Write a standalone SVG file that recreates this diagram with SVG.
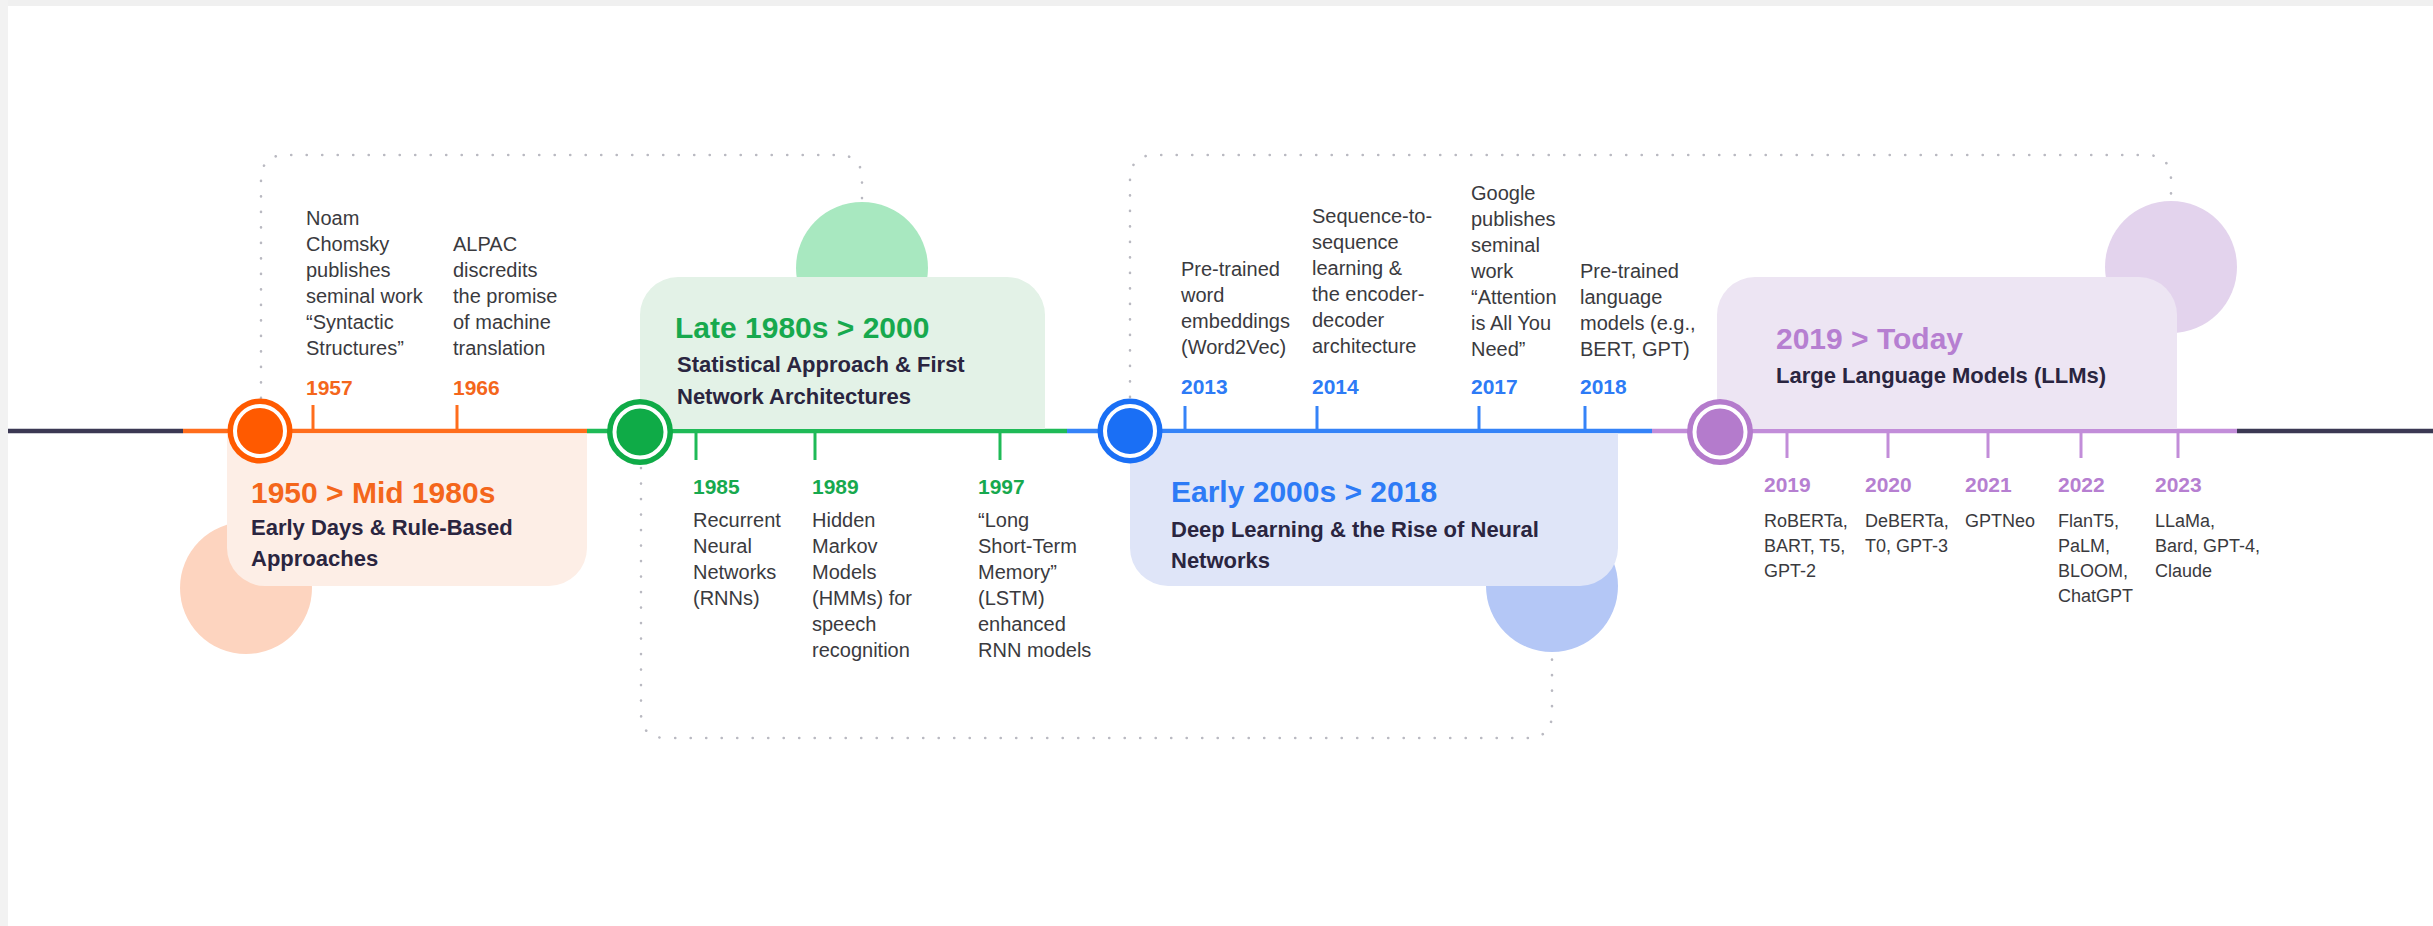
<svg xmlns="http://www.w3.org/2000/svg" width="2433" height="926" viewBox="0 0 2433 926">
<style>
text{font-family:"Liberation Sans",Arial,sans-serif}
.desc{font-size:20px;fill:#3a3a3e}
.pdesc{font-size:18px;fill:#3a3a3e}
.yr{font-size:21px;font-weight:700}
.ttl{font-size:30px;font-weight:700}
.sub{font-size:22px;font-weight:700;fill:#2a2540}
.dot{fill:none;stroke:#b9b9c1;stroke-width:2.6;stroke-linecap:round;stroke-dasharray:0.1 15.4}
.o{fill:#f4661b}.g{fill:#17a94e}.b{fill:#2d7bf6}.p{fill:#b67fd1}
.tick{stroke-width:3}
</style>
<rect width="2433" height="926" fill="#ffffff"/>
<rect width="2433" height="6" fill="#f0f0f0"/>
<rect width="8" height="926" fill="#f2f2f2"/>

<g id="connectors">
<path class="dot" d="M261,398 V180 Q261,155 286,155 H838 Q862,155 862,179 V200"/>
<path class="dot" d="M641,468 V713 Q641,738 666,738 H1527 Q1552,738 1552,713 V654"/>
<path class="dot" d="M1130,397 V180 Q1130,155 1155,155 H2146 Q2171,155 2171,180 V200"/>
</g>

<g id="timeline" stroke-width="4.5" fill="none">
<line x1="8" y1="431" x2="183" y2="431" stroke="#3b3853"/>
<line x1="183" y1="431" x2="587" y2="431" stroke="#ff6d1c"/>
<line x1="587" y1="431" x2="1067" y2="431" stroke="#1fba57"/>
<line x1="1067" y1="431" x2="1652" y2="431" stroke="#3583f8"/>
<line x1="1652" y1="431" x2="2237" y2="431" stroke="#c28dd9"/>
<line x1="2237" y1="431" x2="2433" y2="431" stroke="#3b3853"/>
</g>

<g id="phase-1950">
<circle cx="246" cy="588" r="66" fill="#fdd4bf"/>
<path d="M227,433.5 H587 V548 A38,38 0 0 1 549,586 H265 A38,38 0 0 1 227,548 Z" fill="#fdeee6"/>
<circle cx="260" cy="431" r="32.5" fill="#ff5a00"/>
<circle cx="260" cy="431" r="25" fill="#ff5a00" stroke="#ffffff" stroke-width="4"/>
<text class="ttl o" x="251" y="503">1950 &gt; Mid 1980s</text>
<text class="sub" x="251" y="535">Early Days &amp; Rule-Based</text>
<text class="sub" x="251" y="566">Approaches</text>
</g>

<g id="event-1957">
<line class="tick" x1="313" y1="405" x2="313" y2="431" stroke="#ff6d1c"/>
<text class="yr o" x="306" y="395">1957</text>
<text class="desc" x="306" y="225">Noam<tspan x="306" dy="26">Chomsky</tspan><tspan x="306" dy="26">publishes</tspan><tspan x="306" dy="26">seminal work</tspan><tspan x="306" dy="26">“Syntactic</tspan><tspan x="306" dy="26">Structures”</tspan></text>
</g>
<g id="event-1966">
<line class="tick" x1="457" y1="405" x2="457" y2="431" stroke="#ff6d1c"/>
<text class="yr o" x="453" y="395">1966</text>
<text class="desc" x="453" y="251">ALPAC<tspan x="453" dy="26">discredits</tspan><tspan x="453" dy="26">the promise</tspan><tspan x="453" dy="26">of machine</tspan><tspan x="453" dy="26">translation</tspan></text>
</g>

<g id="phase-late1980s">
<circle cx="862" cy="268" r="66" fill="#a8e8c0"/>
<path d="M640,429 V315 A38,38 0 0 1 678,277 H1007 A38,38 0 0 1 1045,315 V429 Z" fill="#e3f2e7"/>
<circle cx="640" cy="432" r="33" fill="#0fab47"/>
<circle cx="640" cy="432" r="25.5" fill="#0fab47" stroke="#ffffff" stroke-width="4"/>
<text class="ttl g" x="675" y="338">Late 1980s &gt; 2000</text>
<text class="sub" x="677" y="372">Statistical Approach &amp; First</text>
<text class="sub" x="677" y="404">Network Architectures</text>
</g>

<g id="event-1985">
<line class="tick" x1="696" y1="431" x2="696" y2="460" stroke="#1fba57"/>
<text class="yr g" x="693" y="494">1985</text>
<text class="desc" x="693" y="527">Recurrent<tspan x="693" dy="26">Neural</tspan><tspan x="693" dy="26">Networks</tspan><tspan x="693" dy="26">(RNNs)</tspan></text>
</g>
<g id="event-1989">
<line class="tick" x1="815" y1="431" x2="815" y2="460" stroke="#1fba57"/>
<text class="yr g" x="812" y="494">1989</text>
<text class="desc" x="812" y="527">Hidden<tspan x="812" dy="26">Markov</tspan><tspan x="812" dy="26">Models</tspan><tspan x="812" dy="26">(HMMs) for</tspan><tspan x="812" dy="26">speech</tspan><tspan x="812" dy="26">recognition</tspan></text>
</g>
<g id="event-1997">
<line class="tick" x1="1000" y1="431" x2="1000" y2="460" stroke="#1fba57"/>
<text class="yr g" x="978" y="494">1997</text>
<text class="desc" x="978" y="527">“Long<tspan x="978" dy="26">Short-Term</tspan><tspan x="978" dy="26">Memory”</tspan><tspan x="978" dy="26">(LSTM)</tspan><tspan x="978" dy="26">enhanced</tspan><tspan x="978" dy="26">RNN models</tspan></text>
</g>

<g id="phase-early2000s">
<circle cx="1552" cy="586" r="66" fill="#b4c7f6"/>
<path d="M1130,433.5 H1618 V548 A38,38 0 0 1 1580,586 H1168 A38,38 0 0 1 1130,548 Z" fill="#dfe5f8"/>
<circle cx="1130" cy="431" r="32.5" fill="#1a6ff5"/>
<circle cx="1130" cy="431" r="25" fill="#1a6ff5" stroke="#ffffff" stroke-width="4"/>
<text class="ttl b" x="1171" y="502">Early 2000s &gt; 2018</text>
<text class="sub" x="1171" y="537">Deep Learning &amp; the Rise of Neural</text>
<text class="sub" x="1171" y="568">Networks</text>
</g>

<g id="event-2013">
<line class="tick" x1="1185" y1="406" x2="1185" y2="431" stroke="#3583f8"/>
<text class="yr b" x="1181" y="394">2013</text>
<text class="desc" x="1181" y="276">Pre-trained<tspan x="1181" dy="26">word</tspan><tspan x="1181" dy="26">embeddings</tspan><tspan x="1181" dy="26">(Word2Vec)</tspan></text>
</g>
<g id="event-2014">
<line class="tick" x1="1317" y1="406" x2="1317" y2="431" stroke="#3583f8"/>
<text class="yr b" x="1312" y="394">2014</text>
<text class="desc" x="1312" y="223">Sequence-to-<tspan x="1312" dy="26">sequence</tspan><tspan x="1312" dy="26">learning &amp;</tspan><tspan x="1312" dy="26">the encoder-</tspan><tspan x="1312" dy="26">decoder</tspan><tspan x="1312" dy="26">architecture</tspan></text>
</g>
<g id="event-2017">
<line class="tick" x1="1479" y1="406" x2="1479" y2="431" stroke="#3583f8"/>
<text class="yr b" x="1471" y="394">2017</text>
<text class="desc" x="1471" y="200">Google<tspan x="1471" dy="26">publishes</tspan><tspan x="1471" dy="26">seminal</tspan><tspan x="1471" dy="26">work</tspan><tspan x="1471" dy="26">“Attention</tspan><tspan x="1471" dy="26">is All You</tspan><tspan x="1471" dy="26">Need”</tspan></text>
</g>
<g id="event-2018">
<line class="tick" x1="1585" y1="406" x2="1585" y2="431" stroke="#3583f8"/>
<text class="yr b" x="1580" y="394">2018</text>
<text class="desc" x="1580" y="278">Pre-trained<tspan x="1580" dy="26">language</tspan><tspan x="1580" dy="26">models (e.g.,</tspan><tspan x="1580" dy="26">BERT, GPT)</tspan></text>
</g>

<g id="phase-2019">
<circle cx="2171" cy="267" r="66" fill="#e3d3ed"/>
<path d="M1717,429 V315 A38,38 0 0 1 1755,277 H2139 A38,38 0 0 1 2177,315 V429 Z" fill="#ede5f3"/>
<circle cx="1720" cy="432" r="33" fill="#b47bcc"/>
<circle cx="1720" cy="432" r="25.5" fill="#b47bcc" stroke="#ffffff" stroke-width="4"/>
<text class="ttl p" x="1776" y="349">2019 &gt; Today</text>
<text class="sub" x="1776" y="383">Large Language Models (LLMs)</text>
</g>

<g id="event-2019">
<line class="tick" x1="1787" y1="431" x2="1787" y2="458" stroke="#c28dd9"/>
<text class="yr p" x="1764" y="492">2019</text>
<text class="pdesc" x="1764" y="527">RoBERTa,<tspan x="1764" dy="25">BART, T5,</tspan><tspan x="1764" dy="25">GPT-2</tspan></text>
</g>
<g id="event-2020">
<line class="tick" x1="1888" y1="431" x2="1888" y2="458" stroke="#c28dd9"/>
<text class="yr p" x="1865" y="492">2020</text>
<text class="pdesc" x="1865" y="527">DeBERTa,<tspan x="1865" dy="25">T0, GPT-3</tspan></text>
</g>
<g id="event-2021">
<line class="tick" x1="1988" y1="431" x2="1988" y2="458" stroke="#c28dd9"/>
<text class="yr p" x="1965" y="492">2021</text>
<text class="pdesc" x="1965" y="527">GPTNeo</text>
</g>
<g id="event-2022">
<line class="tick" x1="2081" y1="431" x2="2081" y2="458" stroke="#c28dd9"/>
<text class="yr p" x="2058" y="492">2022</text>
<text class="pdesc" x="2058" y="527">FlanT5,<tspan x="2058" dy="25">PaLM,</tspan><tspan x="2058" dy="25">BLOOM,</tspan><tspan x="2058" dy="25">ChatGPT</tspan></text>
</g>
<g id="event-2023">
<line class="tick" x1="2178" y1="431" x2="2178" y2="458" stroke="#c28dd9"/>
<text class="yr p" x="2155" y="492">2023</text>
<text class="pdesc" x="2155" y="527">LLaMa,<tspan x="2155" dy="25">Bard, GPT-4,</tspan><tspan x="2155" dy="25">Claude</tspan></text>
</g>
</svg>
